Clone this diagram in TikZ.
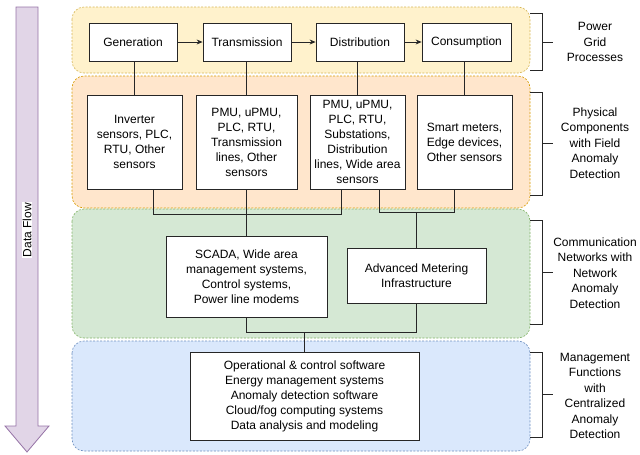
\documentclass[tikz,border=0pt]{standalone}
\usepackage{fontspec}
\setmainfont{Liberation Sans}
\usetikzlibrary{arrows.meta}
\definecolor{ylwF}{HTML}{FFF2CC}\definecolor{ylwD}{HTML}{D6B656}
\definecolor{orgF}{HTML}{FFE6CC}\definecolor{orgD}{HTML}{D79B00}
\definecolor{grnF}{HTML}{D5E8D4}\definecolor{grnD}{HTML}{82B366}
\definecolor{bluF}{HTML}{DAE8FC}\definecolor{bluD}{HTML}{6C8EBF}
\definecolor{purF}{HTML}{E1D5E7}\definecolor{purD}{HTML}{9673A6}
\begin{document}
\begin{tikzpicture}[x=1pt,y=-1pt,font=\fontsize{12}{15}\selectfont,
  band/.style={rounded corners=12pt,line width=0.6pt,dash pattern=on 2pt off 1.5pt},
  box/.style={draw=black!85,fill=white,align=center,inner sep=0pt,line width=0.8pt},
  wire/.style={draw=black!85,line width=0.8pt},
  brk/.style={draw=black!85,line width=0.8pt},
  lab/.style={align=center,font=\fontsize{12}{15.5}\selectfont}]
\useasboundingbox (0,0) rectangle (640,455);
% bands
\draw[band,fill=ylwF,draw=ylwD] (72,7) rectangle (530,73);
\draw[band,fill=orgF,draw=orgD] (72,76) rectangle (530,208);
\draw[band,fill=grnF,draw=grnD] (72,209) rectangle (530,338);
\draw[band,fill=bluF,draw=bluD] (72,341) rectangle (530,451);
% data flow arrow
\draw[fill=purF,draw=purD,line width=0.8pt] (16,7) -- (38,7) -- (38,426) -- (49,426) -- (27,452) -- (5,426) -- (16,426) -- cycle;
\node[rotate=90,fill=white,inner sep=1pt] (df) at (27,230) {Data Flow};
% top row
\node[box,minimum width=88pt,minimum height=38pt] (gen) at (133,42) {Generation};
\node[box,minimum width=88pt,minimum height=38pt] (trans) at (247,42) {Transmission};
\node[box,minimum width=88pt,minimum height=38pt] (dist) at (360,42) {Distribution};
\node[box,minimum width=89pt,minimum height=38pt] (cons) at (466.5,42) {Consumption};
\draw[wire,-{Stealth[length=6pt,width=5pt]}] (gen) -- (trans);
\draw[wire,-{Stealth[length=6pt,width=5pt]}] (trans) -- (dist);
\draw[wire,-{Stealth[length=6pt,width=5pt]}] (dist) -- (cons);
% second row
\node[box,minimum width=95pt,minimum height=94pt] (pc1) at (134.5,142) {Inverter\\sensors, PLC,\\RTU, Other\\sensors};
\node[box,minimum width=101pt,minimum height=94pt] (pc2) at (246.5,142) {PMU, uPMU,\\PLC, RTU,\\Transmission\\lines, Other\\sensors};
\node[box,minimum width=95pt,minimum height=94pt] (pc3) at (357.5,142) {PMU, uPMU,\\PLC, RTU,\\Substations,\\Distribution\\lines, Wide area\\sensors};
\node[box,minimum width=95pt,minimum height=94pt] (pc4) at (464.5,142) {Smart meters,\\Edge devices,\\Other sensors};
\draw[wire] (gen.south -| pc1) -- (pc1.north);
\draw[wire] (trans.south -| pc2) -- (pc2.north);
\draw[wire] (dist.south -| pc3) -- (pc3.north);
\draw[wire] (cons.south -| pc4) -- (pc4.north);
% communication
\node[box,minimum width=161pt,minimum height=81pt] (scada) at (246.5,276.5) {SCADA, Wide area\\management systems,\\Control systems,\\Power line modems};
\node[box,minimum width=139pt,minimum height=55pt] (ami) at (416.5,275.5) {Advanced Metering\\Infrastructure};
\coordinate (j1) at (153,214);
\coordinate (j2) at (341,214);
\coordinate (j3) at (379,212);
\coordinate (j4) at (454,212);
\coordinate (j5) at (304.5,332);
\draw[wire] (pc1.south -| j1) -- (j1) -- (j2) -- (pc3.south -| j2);
\draw[wire] (pc2.south) -- (scada.north);
\draw[wire] (pc3.south -| j3) -- (j3) -- (j4) -- (pc4.south -| j4);
\draw[wire] (ami.north |- j3) -- (ami.north);
% management
\node[box,minimum width=229pt,minimum height=88pt] (mgmt) at (304.5,396) {Operational \& control software\\Energy management systems\\Anomaly detection software\\Cloud/fog computing systems\\Data analysis and modeling};
\draw[wire] (scada.south) |- (ami.south |- j5) -- (ami.south);
\draw[wire] (j5) -- (mgmt.north);
% brackets
\draw[brk] (530,13) -- (542,13) -- (542,70) -- (530,70);
\draw[brk] (542,42) -- (553,42);
\draw[brk] (530,92) -- (542,92) -- (542,195) -- (530,195);
\draw[brk] (542,143) -- (553,143);
\draw[brk] (530,220) -- (542,220) -- (542,324) -- (530,324);
\draw[brk] (542,272) -- (553,272);
\draw[brk] (530,352) -- (542,352) -- (542,437) -- (530,437);
\draw[brk] (542,394) -- (553,394);
\node[lab] (l1) at (595,42) {Power\\Grid\\Processes};
\node[lab] (l2) at (595,143) {Physical\\Components\\with Field\\Anomaly\\Detection};
\node[lab] (l3) at (595,273) {Communication\\Networks with\\Network\\Anomaly\\Detection};
\node[lab] (l4) at (595,396) {Management\\Functions\\with\\Centralized\\Anomaly\\Detection};
\end{tikzpicture}
\end{document}
